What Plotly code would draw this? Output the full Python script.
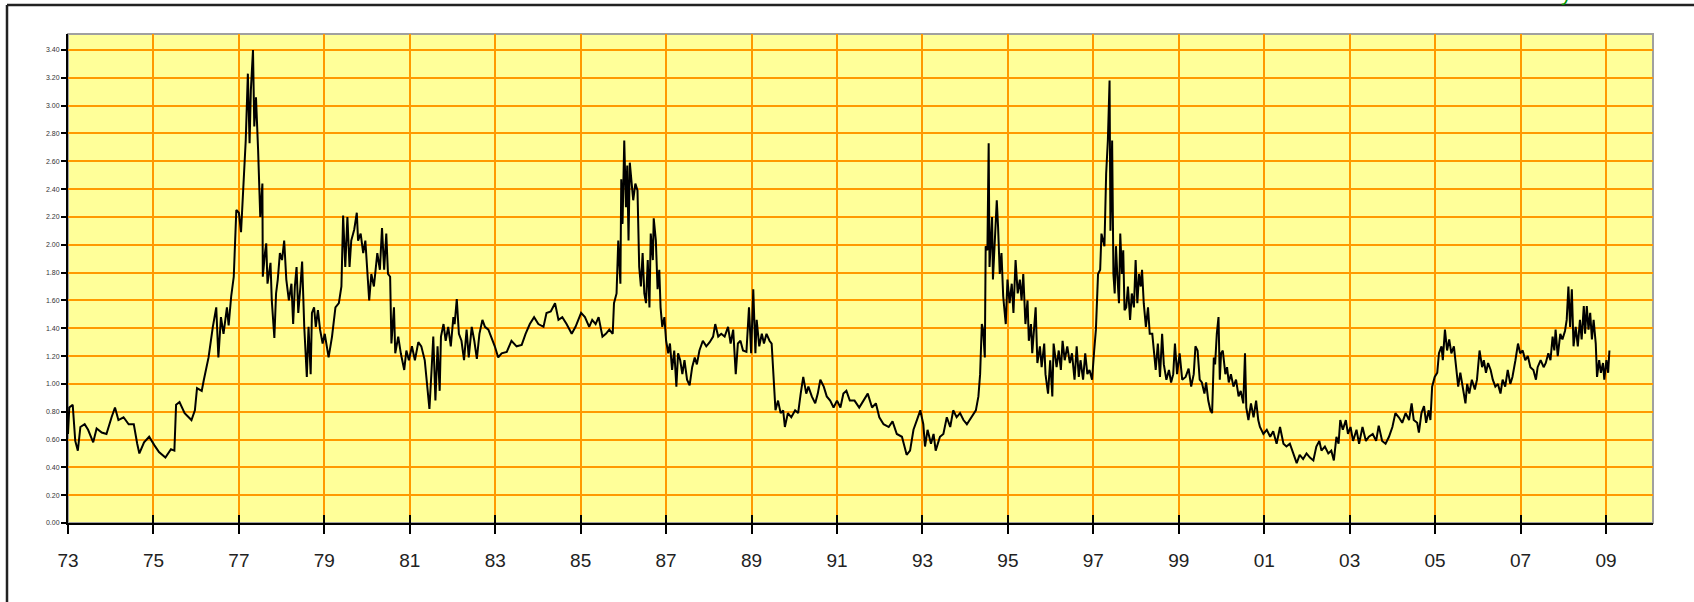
import plotly.graph_objects as go

# ---- data (decimal year, price) ----
years_7378 = [
    1973.00, 1973.03, 1973.11, 1973.17, 1973.23, 1973.29, 1973.39, 1973.47, 1973.59, 1973.67, 1973.79, 1973.90,
    1974.02, 1974.10, 1974.18, 1974.30, 1974.42, 1974.54, 1974.62, 1974.67, 1974.78, 1974.90,
    1975.02, 1975.13, 1975.28, 1975.41, 1975.49, 1975.53, 1975.61, 1975.73, 1975.89, 1975.97,
    1976.02, 1976.13, 1976.18, 1976.29, 1976.39, 1976.47, 1976.52, 1976.58, 1976.64, 1976.72, 1976.76, 1976.82, 1976.88, 1976.94,
    1977.00, 1977.05, 1977.10, 1977.16, 1977.21, 1977.25, 1977.28, 1977.33, 1977.36, 1977.40, 1977.45, 1977.50, 1977.55, 1977.56,
    1977.61, 1977.64, 1977.67, 1977.74, 1977.77, 1977.83, 1977.87, 1977.91, 1977.96,
    1978.01, 1978.06, 1978.11, 1978.17, 1978.23, 1978.27, 1978.31, 1978.35, 1978.39, 1978.44, 1978.48, 1978.53, 1978.59,
    1978.63, 1978.68, 1978.71, 1978.76, 1978.80, 1978.85, 1978.90, 1978.96,
]
price_7378 = [
    0.64, 0.83, 0.85, 0.59, 0.52, 0.69, 0.71, 0.67, 0.58, 0.68, 0.65, 0.64,
    0.76, 0.83, 0.74, 0.76, 0.71, 0.71, 0.57, 0.50, 0.58, 0.62,
    0.56, 0.51, 0.47, 0.53, 0.52, 0.85, 0.87, 0.79, 0.74, 0.81,
    0.97, 0.95, 1.03, 1.19, 1.41, 1.55, 1.19, 1.48, 1.36, 1.55, 1.42, 1.63, 1.77, 2.25,
    2.23, 2.09, 2.39, 2.75, 3.23, 2.73, 3.11, 3.40, 2.85, 3.06, 2.68, 2.20, 2.44, 1.77,
    1.94, 2.01, 1.72, 1.87, 1.60, 1.33, 1.65, 1.75, 1.94,
    1.89, 2.03, 1.75, 1.60, 1.72, 1.43, 1.70, 1.84, 1.51, 1.70, 1.88, 1.41, 1.05,
    1.41, 1.07, 1.51, 1.55, 1.41, 1.53, 1.39, 1.29,
]

years_7985 = [
    1979.01, 1979.10, 1979.18, 1979.26, 1979.34, 1979.40, 1979.44, 1979.49, 1979.54, 1979.59, 1979.63, 1979.70, 1979.76, 1979.79, 1979.85, 1979.91, 1979.96,
    1980.01, 1980.05, 1980.10, 1980.16, 1980.20, 1980.24, 1980.30, 1980.35, 1980.40, 1980.45, 1980.49, 1980.54, 1980.57, 1980.63, 1980.66, 1980.73, 1980.79, 1980.87, 1980.92, 1980.98,
    1981.05, 1981.12, 1981.20, 1981.27, 1981.35, 1981.40, 1981.46, 1981.51, 1981.55, 1981.60, 1981.65, 1981.70, 1981.73, 1981.79, 1981.84, 1981.90, 1981.96,
    1982.02, 1982.05, 1982.10, 1982.15, 1982.21, 1982.27, 1982.33, 1982.38, 1982.45, 1982.51, 1982.57, 1982.63, 1982.70, 1982.76, 1982.84, 1982.91, 1982.99,
    1983.07, 1983.15, 1983.27, 1983.38, 1983.50, 1983.62, 1983.71, 1983.81, 1983.91,
    1984.01, 1984.13, 1984.20, 1984.30, 1984.40, 1984.48, 1984.57, 1984.67, 1984.79, 1984.88,
    1985.01, 1985.10,
]
price_7985 = [
    1.36, 1.19, 1.34, 1.55, 1.58, 1.70, 2.21, 1.84, 2.20, 1.84, 2.03, 2.11, 2.23, 2.03, 2.08, 1.94, 2.03,
    1.75, 1.60, 1.79, 1.70, 1.82, 1.94, 1.82, 2.12, 1.82, 2.08, 1.79, 1.77, 1.29, 1.55, 1.22, 1.34, 1.22, 1.10, 1.24, 1.17,
    1.27, 1.17, 1.30, 1.27, 1.17, 1.03, 0.82, 1.10, 1.34, 0.88, 1.27, 0.95, 1.34, 1.43, 1.31, 1.41, 1.27,
    1.48, 1.43, 1.61, 1.36, 1.31, 1.17, 1.39, 1.19, 1.41, 1.31, 1.18, 1.36, 1.46, 1.41, 1.39, 1.34, 1.27,
    1.19, 1.22, 1.23, 1.31, 1.27, 1.28, 1.36, 1.43, 1.48,
    1.43, 1.41, 1.51, 1.52, 1.58, 1.46, 1.48, 1.43, 1.36, 1.41,
    1.51, 1.48,
]

years_8591 = [
    1985.20, 1985.27, 1985.35, 1985.42, 1985.51, 1985.59, 1985.67, 1985.75, 1985.78, 1985.84, 1985.88, 1985.93, 1985.95, 1985.98,
    1986.02, 1986.06, 1986.09, 1986.12, 1986.15, 1986.20, 1986.23, 1986.28, 1986.33, 1986.37, 1986.41, 1986.45, 1986.49,
    1986.53, 1986.57, 1986.61, 1986.64, 1986.69, 1986.71, 1986.76, 1986.80, 1986.84, 1986.87, 1986.91, 1986.96,
    1987.00, 1987.05, 1987.09, 1987.14, 1987.19, 1987.24, 1987.28, 1987.33, 1987.38, 1987.43, 1987.49, 1987.55, 1987.61, 1987.67, 1987.72, 1987.78, 1987.86, 1987.94,
    1988.02, 1988.10, 1988.15, 1988.22, 1988.29, 1988.37, 1988.45, 1988.51, 1988.57, 1988.63, 1988.68, 1988.74, 1988.80, 1988.88, 1988.94, 1988.99,
    1989.04, 1989.09, 1989.12, 1989.18, 1989.24, 1989.29, 1989.35, 1989.42, 1989.47, 1989.51, 1989.56, 1989.62, 1989.68, 1989.74, 1989.78, 1989.85, 1989.93,
    1990.02, 1990.09, 1990.15, 1990.21, 1990.28, 1990.33, 1990.41, 1990.49, 1990.55, 1990.61, 1990.69, 1990.76, 1990.84, 1990.92,
    1991.00, 1991.08, 1991.15, 1991.22, 1991.30, 1991.41,
]
price_8591 = [
    1.41, 1.46, 1.43, 1.48, 1.34, 1.36, 1.39, 1.36, 1.58, 1.65, 2.03, 1.72, 2.47, 2.15,
    2.75, 2.27, 2.57, 2.03, 2.59, 2.42, 2.32, 2.44, 2.39, 1.84, 1.70, 1.94, 1.65,
    1.58, 1.89, 1.55, 2.08, 1.89, 2.19, 2.03, 1.68, 1.82, 1.55, 1.41, 1.48,
    1.31, 1.22, 1.29, 1.10, 1.24, 0.98, 1.22, 1.17, 1.07, 1.17, 1.03, 0.99, 1.12, 1.19, 1.14, 1.24, 1.31, 1.27,
    1.30, 1.34, 1.43, 1.34, 1.36, 1.34, 1.41, 1.29, 1.39, 1.07, 1.29, 1.31, 1.24, 1.23, 1.55, 1.22,
    1.68, 1.22, 1.46, 1.27, 1.36, 1.29, 1.36, 1.31, 1.29, 1.03, 0.81, 0.88, 0.79, 0.81, 0.69, 0.79, 0.76,
    0.81, 0.79, 0.93, 1.05, 0.93, 0.98, 0.91, 0.86, 0.93, 1.03, 0.98, 0.91, 0.88, 0.83,
    0.88, 0.83, 0.93, 0.95, 0.88, 0.88,
]

years_9197 = [
    1991.52, 1991.62, 1991.72, 1991.82, 1991.91, 1991.99,
    1992.09, 1992.21, 1992.30, 1992.40, 1992.52, 1992.58, 1992.63, 1992.71, 1992.79, 1992.87, 1992.95,
    1993.02, 1993.06, 1993.12, 1993.20, 1993.26, 1993.31, 1993.41, 1993.49, 1993.57, 1993.65, 1993.72, 1993.80, 1993.88, 1993.96,
    1994.04, 1994.15, 1994.25, 1994.31, 1994.35, 1994.39, 1994.42, 1994.46, 1994.48, 1994.52, 1994.55, 1994.57, 1994.60,
    1994.63, 1994.65, 1994.70, 1994.74, 1994.77, 1994.81, 1994.85, 1994.89, 1994.95, 1994.99,
    1995.04, 1995.09, 1995.13, 1995.18, 1995.23, 1995.28, 1995.32, 1995.36, 1995.41, 1995.46, 1995.49, 1995.54, 1995.57,
    1995.62, 1995.65, 1995.69, 1995.75, 1995.79, 1995.85, 1995.88, 1995.94, 1995.99,
    1996.04, 1996.07, 1996.14, 1996.19, 1996.24, 1996.28, 1996.33, 1996.39, 1996.45, 1996.50, 1996.56, 1996.61, 1996.66,
    1996.70, 1996.76, 1996.81, 1996.86, 1996.91, 1996.97,
    1997.02, 1997.06, 1997.11, 1997.16, 1997.19, 1997.23, 1997.26, 1997.30, 1997.34, 1997.38, 1997.40, 1997.44, 1997.47,
    1997.50, 1997.53, 1997.56, 1997.60, 1997.63, 1997.67, 1997.70, 1997.73,
]
price_9197 = [
    0.83, 0.88, 0.93, 0.83, 0.86, 0.76,
    0.71, 0.69, 0.73, 0.64, 0.62, 0.55, 0.49, 0.52, 0.67, 0.74, 0.81,
    0.71, 0.55, 0.67, 0.57, 0.64, 0.52, 0.62, 0.64, 0.76, 0.69, 0.81, 0.76, 0.79, 0.74,
    0.71, 0.76, 0.81, 0.91, 1.07, 1.43, 1.39, 1.19, 1.99, 1.96, 2.73, 1.84, 2.03,
    2.20, 1.75, 2.03, 2.32, 2.13, 1.79, 1.94, 1.63, 1.43, 1.75,
    1.58, 1.72, 1.51, 1.89, 1.65, 1.75, 1.60, 1.79, 1.43, 1.60, 1.31, 1.43, 1.22,
    1.48, 1.55, 1.15, 1.27, 1.12, 1.29, 1.07, 0.93, 1.17,
    0.91, 1.29, 1.12, 1.24, 1.10, 1.31, 1.17, 1.27, 1.15, 1.22, 1.03, 1.27, 1.05,
    1.17, 1.03, 1.22, 1.07, 1.10, 1.03,
    1.24, 1.39, 1.79, 1.82, 2.08, 2.03, 1.99, 2.51, 2.75, 3.18, 2.10, 2.75, 1.79,
    1.65, 1.99, 1.79, 1.58, 2.08, 1.79, 1.96, 1.53,
]

years_9703 = [
    1997.77, 1997.81, 1997.86, 1997.90, 1997.95, 1997.99,
    1998.03, 1998.07, 1998.11, 1998.14, 1998.18, 1998.23, 1998.28, 1998.32, 1998.38, 1998.42, 1998.46,
    1998.51, 1998.56, 1998.61, 1998.65, 1998.71, 1998.77, 1998.82, 1998.87, 1998.91, 1998.96,
    1999.02, 1999.08, 1999.16, 1999.23, 1999.29, 1999.35, 1999.39, 1999.44, 1999.49, 1999.54, 1999.60,
    1999.64, 1999.69, 1999.74, 1999.78, 1999.82, 1999.85, 1999.89, 1999.93, 1999.96, 1999.99,
    2000.03, 2000.09, 2000.13, 2000.17, 2000.22, 2000.28, 2000.34, 2000.40, 2000.45, 2000.51,
    2000.55, 2000.58, 2000.63, 2000.69, 2000.75, 2000.81, 2000.86, 2000.90, 2000.98,
    2001.06, 2001.14, 2001.21, 2001.29, 2001.37, 2001.45, 2001.52, 2001.60, 2001.68, 2001.76, 2001.83, 2001.91, 2001.99,
    2002.07, 2002.15, 2002.22, 2002.29, 2002.34, 2002.42, 2002.50, 2002.57, 2002.63, 2002.69, 2002.74, 2002.78, 2002.84, 2002.91, 2002.96,
    2003.02, 2003.08, 2003.16, 2003.22, 2003.30, 2003.38, 2003.45, 2003.54, 2003.62, 2003.68, 2003.76, 2003.84,
]
price_9703 = [
    1.55, 1.70, 1.46, 1.65, 1.55, 1.89,
    1.58, 1.79, 1.70, 1.82, 1.58, 1.41, 1.55, 1.36, 1.36, 1.24, 1.10,
    1.29, 1.05, 1.36, 1.14, 1.03, 1.10, 1.01, 1.07, 1.29, 1.07,
    1.22, 1.03, 1.05, 1.11, 0.98, 1.07, 1.27, 1.24, 1.03, 1.01, 0.93,
    1.01, 0.88, 0.81, 0.79, 1.19, 1.14, 1.36, 1.48, 1.03, 1.22,
    1.24, 1.07, 1.12, 1.01, 1.07, 0.98, 1.03, 0.91, 0.95, 0.86,
    1.22, 0.83, 0.74, 0.86, 0.76, 0.88, 0.74, 0.69, 0.64,
    0.67, 0.62, 0.66, 0.57, 0.69, 0.57, 0.55, 0.57, 0.50, 0.43, 0.49, 0.46, 0.50,
    0.47, 0.45, 0.55, 0.59, 0.52, 0.55, 0.50, 0.52, 0.45, 0.62, 0.57, 0.74, 0.67, 0.74, 0.64,
    0.69, 0.59, 0.67, 0.57, 0.69, 0.59, 0.62, 0.64, 0.59, 0.70, 0.59, 0.57,
]

years_0309 = [
    2003.92,
    2004.00, 2004.07, 2004.15, 2004.23, 2004.31, 2004.39, 2004.45, 2004.50, 2004.58, 2004.62, 2004.68, 2004.74,
    2004.79, 2004.85, 2004.89, 2004.93, 2004.99,
    2005.05, 2005.09, 2005.15, 2005.18, 2005.23, 2005.28, 2005.33, 2005.38, 2005.44, 2005.49, 2005.54, 2005.59,
    2005.65, 2005.71, 2005.75, 2005.80, 2005.86, 2005.93, 2005.98,
    2006.04, 2006.10, 2006.14, 2006.19, 2006.24, 2006.30, 2006.35, 2006.41, 2006.47, 2006.53, 2006.58, 2006.64,
    2006.70, 2006.76, 2006.81, 2006.88, 2006.94, 2006.99,
    2007.05, 2007.11, 2007.17, 2007.23, 2007.30, 2007.36, 2007.40, 2007.47, 2007.54, 2007.59, 2007.65, 2007.70,
    2007.75, 2007.79, 2007.82, 2007.87, 2007.93, 2007.98,
    2008.04, 2008.08, 2008.12, 2008.16, 2008.20, 2008.24, 2008.29, 2008.34, 2008.39, 2008.43, 2008.48, 2008.51,
    2008.55, 2008.59, 2008.63, 2008.67, 2008.71, 2008.76, 2008.79, 2008.84, 2008.88, 2008.93, 2008.96,
    2009.01, 2009.05, 2009.08,
]
price_0309 = [
    0.62,
    0.69, 0.79, 0.76, 0.72, 0.79, 0.74, 0.86, 0.74, 0.72, 0.65, 0.79, 0.84,
    0.72, 0.81, 0.74, 0.98, 1.05,
    1.08, 1.22, 1.27, 1.17, 1.39, 1.24, 1.32, 1.22, 1.27, 1.12, 0.98, 1.08,
    0.96, 0.86, 1.00, 0.93, 1.03, 0.96, 1.03,
    1.24, 1.12, 1.17, 1.08, 1.15, 1.10, 1.03, 0.98, 1.00, 0.93, 1.03, 0.98,
    1.10, 1.00, 1.05, 1.17, 1.29, 1.22,
    1.24, 1.17, 1.20, 1.12, 1.10, 1.03, 1.12, 1.17, 1.12, 1.15, 1.22, 1.17,
    1.34, 1.24, 1.39, 1.20, 1.36, 1.32,
    1.38, 1.46, 1.70, 1.41, 1.68, 1.27, 1.41, 1.27, 1.46, 1.32, 1.56, 1.36,
    1.56, 1.39, 1.51, 1.32, 1.46, 1.29, 1.05, 1.17, 1.08, 1.15, 1.03,
    1.17, 1.08, 1.24,
]

x_tick_years = [1973, 1975, 1977, 1979, 1981, 1983, 1985, 1987, 1989, 1991,
                1993, 1995, 1997, 1999, 2001, 2003, 2005, 2007, 2009]
x_tick_labels = ["73", "75", "77", "79", "81", "83", "85", "87", "89", "91",
                 "93", "95", "97", "99", "01", "03", "05", "07", "09"]
y_tick_values = [0.0, 0.2, 0.4, 0.6, 0.8, 1.0, 1.2, 1.4, 1.6, 1.8,
                 2.0, 2.2, 2.4, 2.6, 2.8, 3.0, 3.2, 3.4]
y_tick_labels = ["0.00", "0.20", "0.40", "0.60", "0.80", "1.00", "1.20", "1.40", "1.60", "1.80",
                 "2.00", "2.20", "2.40", "2.60", "2.80", "3.00", "3.20", "3.40"]

years = years_7378 + years_7985 + years_8591 + years_9197 + years_9703 + years_0309
prices = price_7378 + price_7985 + price_8591 + price_9197 + price_9703 + price_0309

# ---- figure ----
W, H = 1694, 602
L, R, T, B = 68, 41, 34, 79
pw, ph = W - L - R, H - T - B

def px(xp):
    return (xp - L) / pw

def py(yp):
    return (H - B - yp) / ph

fig = go.Figure()
fig.add_trace(go.Scatter(x=years, y=prices, mode="lines",
                         line=dict(color="#000000", width=2.0),
                         showlegend=False, hoverinfo="x+y"))
# empty trace to bring up the overlay axis that carries the inward tick marks
fig.add_trace(go.Scatter(x=[None], y=[None], xaxis="x2", showlegend=False, hoverinfo="skip"))

font_family = "Liberation Sans, Arial, sans-serif"
x_range = [1973, 2010.1]

fig.update_layout(
    width=W, height=H,
    margin=dict(l=L, r=R, t=T, b=B, pad=0),
    paper_bgcolor="#FFFFFF",
    plot_bgcolor="#FFFF99",
    font=dict(family=font_family, color="#222222"),
    xaxis=dict(
        range=x_range, tickmode="array", tickvals=x_tick_years, ticktext=x_tick_labels,
        ticks="outside", ticklen=9, tickwidth=2, tickcolor="#000000",
        showline=True, linecolor="#000000", linewidth=2,
        showgrid=True, gridcolor="#FF9900", gridwidth=2, zeroline=False,
        tickfont=dict(size=19, family=font_family, color="#222222"),
        ticklabelstandoff=10,
    ),
    xaxis2=dict(
        range=x_range, overlaying="x", anchor="y", side="bottom",
        tickmode="array", tickvals=x_tick_years,
        ticks="inside", ticklen=8, tickwidth=2, tickcolor="#000000",
        showticklabels=False, showgrid=False, showline=False, zeroline=False,
    ),
    yaxis=dict(
        range=[0, 3.515], tickmode="array", tickvals=y_tick_values, ticktext=y_tick_labels,
        ticks="outside", ticklen=5, tickwidth=1.5, tickcolor="#000000",
        showline=True, linecolor="#000000", linewidth=2,
        showgrid=True, gridcolor="#FF9900", gridwidth=2, zeroline=False,
        tickfont=dict(size=7, family=font_family, color="#333333"),
    ),
    shapes=[
        # grey top/right border of the plot area
        dict(type="rect", xref="paper", yref="paper", x0=0, x1=1, y0=0, y1=1,
             line=dict(color="#A0A0A0", width=2), fillcolor="rgba(0,0,0,0)", layer="below"),
        # outer frame (left and top edges visible)
        dict(type="line", xref="paper", yref="paper", x0=px(7), x1=px(7), y0=py(H + 5), y1=py(5),
             line=dict(color="#222222", width=2.5)),
        dict(type="line", xref="paper", yref="paper", x0=px(7), x1=px(W + 5), y0=py(5), y1=py(5),
             line=dict(color="#222222", width=2.5)),
    ],
    annotations=[
        dict(text="y", xref="paper", yref="paper", x=px(1566), y=py(7),
             xanchor="center", yanchor="bottom", showarrow=False,
             font=dict(size=22, color="#009900", family=font_family)),
    ],
)

fig.write_html("out.html",
               config={"displayModeBar": False},
               post_script="document.body.style.margin='0';document.body.style.overflow='hidden';")
